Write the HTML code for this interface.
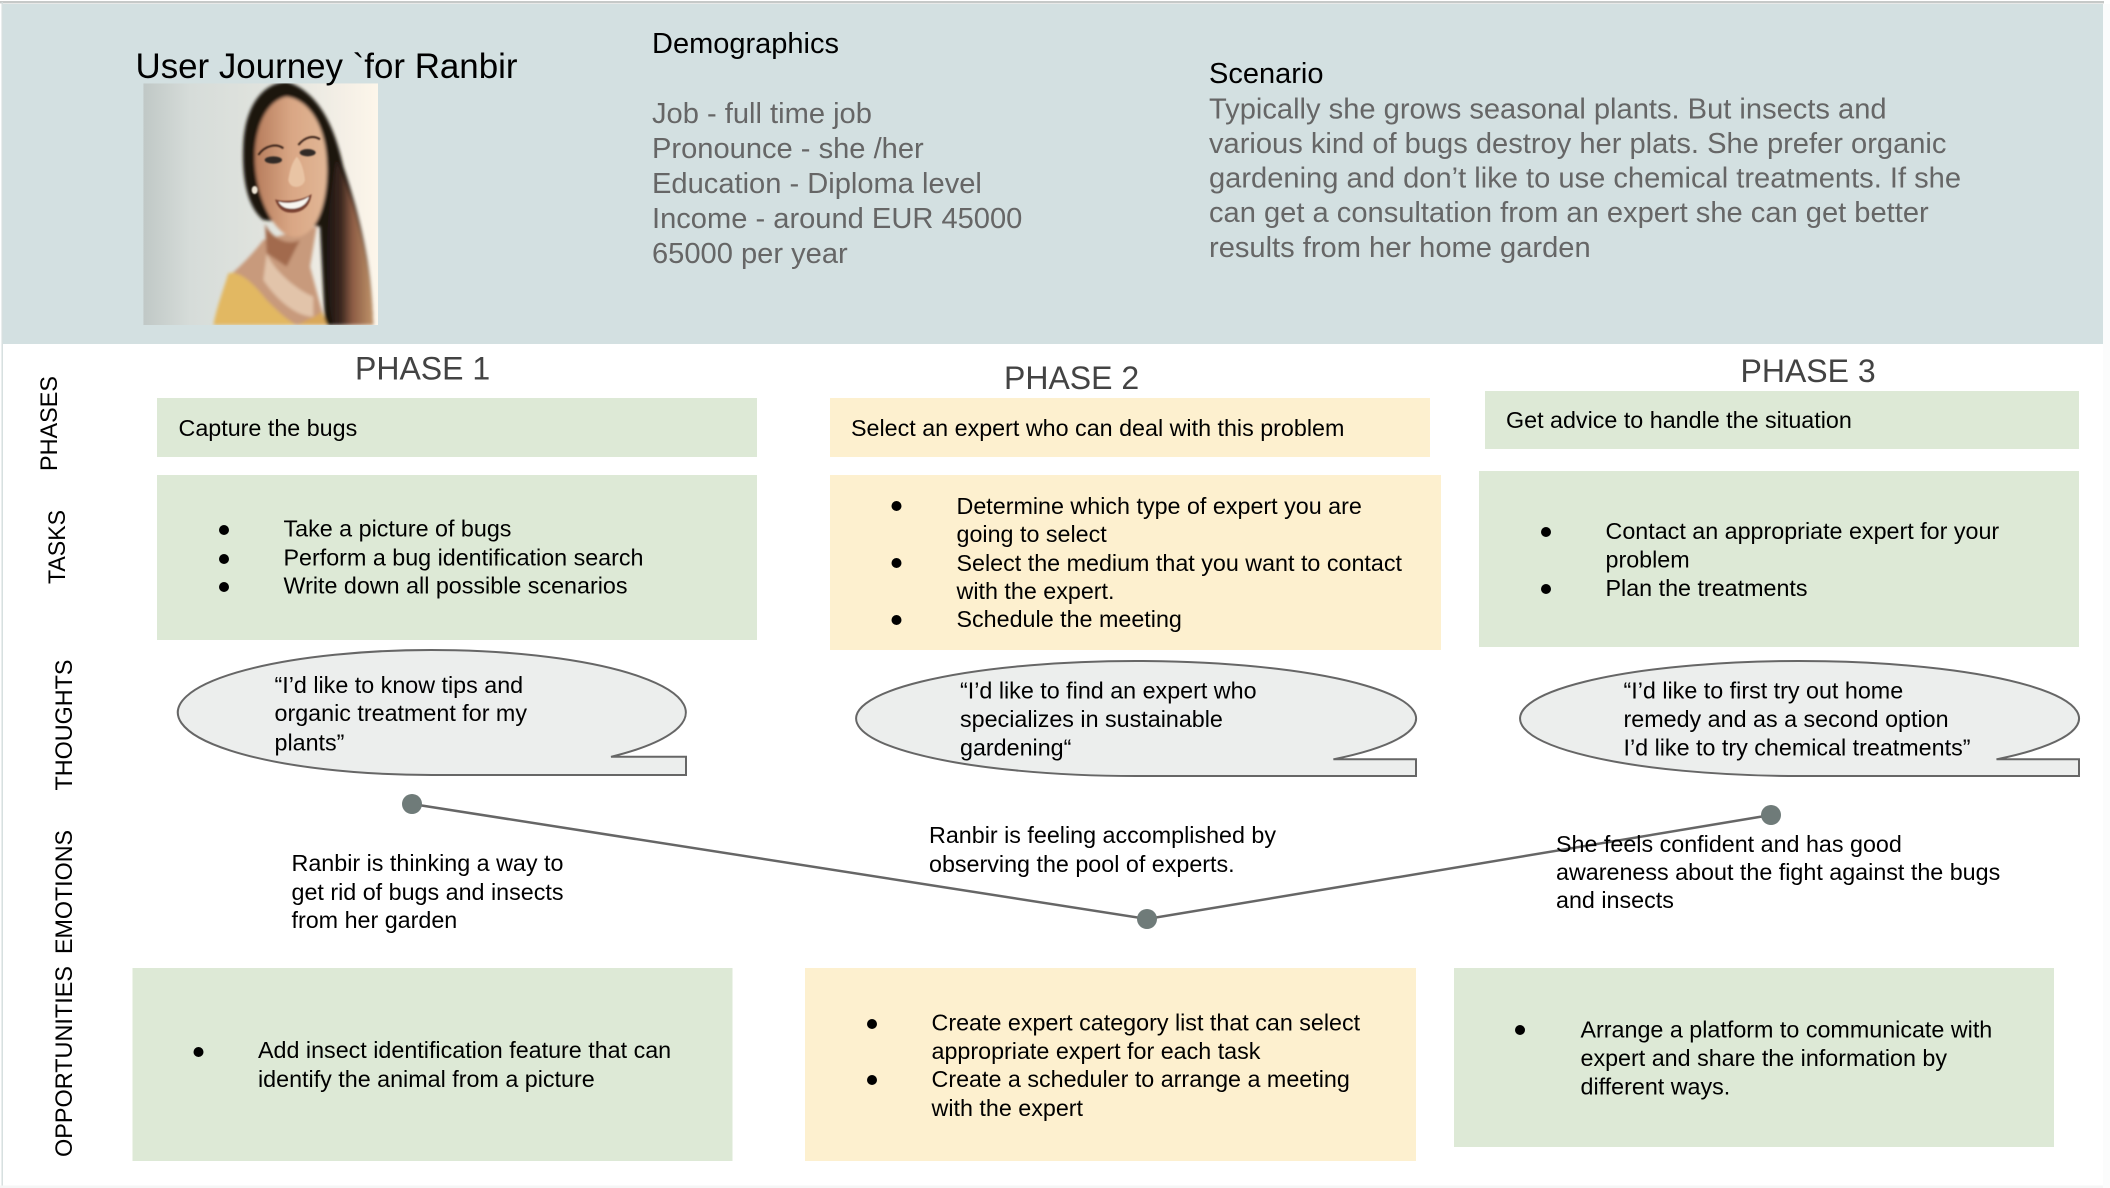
<!DOCTYPE html>
<html lang="en">
<head>
<meta charset="utf-8">
<title>User Journey for Ranbir</title>
<style>
html,body{margin:0;padding:0;background:#fff;width:2110px;height:1188px;overflow:hidden}
svg{display:block}
text{font-family:"Liberation Sans",Arial,sans-serif;fill:#000}
.b{font-size:23.3px}
.h{font-size:29px}
.g{font-size:29.1px;fill:#666}
.p{font-size:32px;fill:#434343}
.s{font-size:24.5px}
</style>
</head>
<body>
<svg xmlns="http://www.w3.org/2000/svg" width="2110" height="1188" viewBox="0 0 2110 1188">
<defs>
<linearGradient id="bg" x1="0" x2="1" y1="0" y2="0">
<stop offset="0" stop-color="#c0c8c6"/><stop offset=".2" stop-color="#d6dcd9"/><stop offset=".6" stop-color="#e3e5df"/><stop offset=".85" stop-color="#f4efe6"/><stop offset="1" stop-color="#fdf6ea"/>
</linearGradient>
<linearGradient id="hairR" x1="0" x2="1" y1="0" y2="0">
<stop offset="0" stop-color="#1e1612"/><stop offset=".3" stop-color="#3a261e"/><stop offset=".55" stop-color="#8c5c44"/><stop offset="1" stop-color="#c0946a"/>
</linearGradient>
<linearGradient id="skin" x1="0" x2="1" y1="0" y2="0">
<stop offset="0" stop-color="#b67c5c"/><stop offset=".5" stop-color="#d9a684"/><stop offset="1" stop-color="#e2b796"/>
</linearGradient>
<filter id="bl" x="-10%" y="-10%" width="120%" height="120%"><feGaussianBlur stdDeviation="5"/></filter>
<filter id="bl2" x="-20%" y="-20%" width="140%" height="140%"><feGaussianBlur stdDeviation="2.5"/></filter>
<clipPath id="pc"><rect x="10" y="10" width="704" height="725"/></clipPath>
</defs>

<!-- page frame -->
<rect x="0" y="1" width="2104" height="2.4" fill="#c6c9c8"/>
<rect x="1.5" y="2" width="1.4" height="1186" fill="#d3dcdc"/>
<rect x="0" y="1185.5" width="2110" height="2.5" fill="#f5f6f6"/>
<rect x="2103" y="4" width="7" height="1184" fill="#fbfcfc"/>

<!-- header -->
<rect x="3" y="4" width="2100" height="340" fill="#d3e0e1"/>

<!-- portrait -->
<svg x="140" y="80" width="250" height="250" viewBox="0 0 750 750">
<g clip-path="url(#pc)">
<rect x="10" y="10" width="704" height="725" fill="url(#bg)"/>
<g filter="url(#bl)">
<path d="M440 5C360 10 315 90 310 190C305 290 320 380 370 420L540 440L555 735L700 735C695 600 680 470 610 260C590 170 550 40 440 5Z" fill="#1c1511"/>
<path d="M590 240C650 380 695 560 700 735L580 735C550 600 555 420 590 240Z" fill="url(#hairR)"/>
<path d="M370 480C340 520 300 560 265 590L240 735L560 735L545 690L510 560L530 440Z" fill="#c89a7c"/>
<path d="M380 520C400 570 470 630 520 650L520 710C470 710 410 660 370 600Z" fill="#e2c4aa"/>
<path d="M440 50C385 60 350 130 345 210C340 300 370 400 420 450C450 480 490 480 520 440C550 400 565 320 560 240C555 140 510 60 440 50Z" fill="url(#skin)"/>
<path d="M375 430C390 470 440 500 480 480L440 560L380 520Z" fill="#a26b4e"/>
<path d="M265 580C300 570 340 610 380 660C410 690 440 720 470 735L220 735C230 680 250 630 265 580Z" fill="#e2b862"/>
<path d="M470 735C500 720 530 710 545 695L562 735Z" fill="#d9a85a"/>
</g>
<g filter="url(#bl2)">
<path d="M355 225C375 195 410 190 430 205" stroke="#3a2418" stroke-width="6" fill="none"/>
<path d="M475 195C495 170 520 165 540 178" stroke="#3a2418" stroke-width="6" fill="none"/>
<ellipse cx="400" cy="240" rx="26" ry="11" fill="#332a26"/>
<ellipse cx="503" cy="218" rx="24" ry="11" fill="#332a26"/>
<path d="M445 300C450 330 490 325 495 300C490 260 480 240 470 230C455 250 450 270 445 300Z" fill="#e9c4a4"/>
<path d="M405 358C440 368 490 360 515 342C510 385 480 400 450 398C425 396 412 380 405 358Z" fill="#7a4230"/>
<path d="M415 365C445 374 485 366 507 350C500 375 478 387 452 386C433 385 422 377 415 365Z" fill="#f8f6f0"/>
<ellipse cx="344" cy="330" rx="9" ry="12" fill="#efe6d6"/>
</g>
</g>
</svg>

<text x="135.500" y="78" style="font-size:34.9px">User Journey `for Ranbir</text>

<text x="652" y="53" class="h">Demographics</text>
<text x="652" y="123" class="g">Job - full time job</text>
<text x="652" y="158" class="g">Pronounce - she /her</text>
<text x="652" y="193" class="g">Education - Diploma level</text>
<text x="652" y="228" class="g">Income - around EUR 45000</text>
<text x="652" y="263" class="g">65000 per year</text>

<text x="1209" y="83" class="h">Scenario</text>
<text x="1209" y="118.500" class="g">Typically she grows seasonal plants. But insects and</text>
<text x="1209" y="153" class="g">various kind of bugs destroy her plats. She prefer organic</text>
<text x="1209" y="187.500" class="g">gardening and don’t like to use chemical treatments. If she</text>
<text x="1209" y="222" class="g">can get a consultation from an expert she can get better</text>
<text x="1209" y="257" class="g">results from her home garden</text>

<!-- phase titles -->
<text x="355" y="379.500" class="p">PHASE 1</text>
<text x="1004" y="389" class="p">PHASE 2</text>
<text x="1740.500" y="382" class="p">PHASE 3</text>

<!-- side labels -->
<text transform="translate(57 471) rotate(-90)" class="s" textLength="95" lengthAdjust="spacingAndGlyphs">PHASES</text>
<text transform="translate(65 584) rotate(-90)" class="s" textLength="74" lengthAdjust="spacingAndGlyphs">TASKS</text>
<text transform="translate(72 790.500) rotate(-90)" class="s" textLength="131" lengthAdjust="spacingAndGlyphs">THOUGHTS</text>
<text transform="translate(72 954) rotate(-90)" class="s" textLength="124" lengthAdjust="spacingAndGlyphs">EMOTIONS</text>
<text transform="translate(72 1157) rotate(-90)" class="s" textLength="191" lengthAdjust="spacingAndGlyphs">OPPORTUNITIES</text>

<!-- phases row -->
<rect x="157" y="398" width="600" height="59" fill="#dde9d6"/>
<text x="178.500" y="436" class="b">Capture the bugs</text>
<rect x="830" y="398" width="600" height="59" fill="#fdf0cf"/>
<text x="851" y="436" class="b">Select an expert who can deal with this problem</text>
<rect x="1485" y="391" width="594" height="58" fill="#dde9d6"/>
<text x="1506" y="428" class="b">Get advice to handle the situation</text>

<!-- tasks row -->
<rect x="157" y="475" width="600" height="165" fill="#dde9d6"/>
<circle cx="224" cy="530" r="5"/><circle cx="224" cy="559" r="5"/><circle cx="224" cy="587" r="5"/>
<text x="283.500" y="536.500" class="b">Take a picture of bugs</text>
<text x="283.500" y="565.500" class="b">Perform a bug identification search</text>
<text x="283.500" y="593.500" class="b">Write down all possible scenarios</text>

<rect x="830" y="475" width="611" height="175" fill="#fdf0cf"/>
<circle cx="896.500" cy="506" r="5"/><circle cx="896.500" cy="563" r="5"/><circle cx="896.500" cy="620" r="5"/>
<text x="956.500" y="514" class="b">Determine which type of expert you are</text>
<text x="956.500" y="542" class="b">going to select</text>
<text x="956.500" y="571" class="b">Select the medium that you want to contact</text>
<text x="956.500" y="599" class="b">with the expert.</text>
<text x="956.500" y="627" class="b">Schedule the meeting</text>

<rect x="1479" y="471" width="600" height="176" fill="#dde9d6"/>
<circle cx="1546" cy="532" r="5"/><circle cx="1546" cy="589" r="5"/>
<text x="1605.500" y="539" class="b">Contact an appropriate expert for your</text>
<text x="1605.500" y="567.500" class="b">problem</text>
<text x="1605.500" y="596" class="b">Plan the treatments</text>

<!-- thought bubbles -->
<path d="M432 775A254 62.500 0 1 1 611 756.800L686 756.800L686 775Z" fill="#eceeed" stroke="#666" stroke-width="2"/>
<text x="274.500" y="693" class="b">“I’d like to know tips and</text>
<text x="274.500" y="721" class="b">organic treatment for my</text>
<text x="274.500" y="750.500" class="b">plants”</text>

<path d="M1136 776A280 57.500 0 1 1 1333.400 759.300L1416 759.300L1416 776Z" fill="#eceeed" stroke="#666" stroke-width="2"/>
<text x="960" y="698.500" class="b">“I’d like to find an expert who</text>
<text x="960" y="727" class="b">specializes in sustainable</text>
<text x="960" y="755.500" class="b">gardening“</text>

<path d="M1799.500 776A279.500 57.500 0 1 1 1996.500 759.300L2079 759.300L2079 776Z" fill="#eceeed" stroke="#666" stroke-width="2"/>
<text x="1623.500" y="698.500" class="b">“I’d like to first try out home</text>
<text x="1623.500" y="727" class="b">remedy and as a second option</text>
<text x="1623.500" y="755.500" class="b">I’d like to try chemical treatments”</text>

<!-- emotion curve -->
<polyline points="412,804 1147,919 1771,815" fill="none" stroke="#666" stroke-width="2.500"/>
<circle cx="412" cy="804" r="10" fill="#6f7b79"/>
<circle cx="1147" cy="919" r="10" fill="#6f7b79"/>
<circle cx="1771" cy="815" r="10" fill="#6f7b79"/>

<text x="291.500" y="871" class="b">Ranbir is thinking a way to</text>
<text x="291.500" y="900" class="b">get rid of bugs and insects</text>
<text x="291.500" y="928" class="b">from her garden</text>

<text x="929" y="843" class="b">Ranbir is feeling accomplished by</text>
<text x="929" y="872" class="b">observing the pool of experts.</text>

<text x="1556" y="852" class="b">She feels confident and has good</text>
<text x="1556" y="880" class="b">awareness about the fight against the bugs</text>
<text x="1556" y="908" class="b">and insects</text>

<!-- opportunities row -->
<rect x="132.500" y="968" width="600" height="193" fill="#dde9d6"/>
<circle cx="198.500" cy="1052" r="5"/>
<text x="258" y="1058" class="b">Add insect identification feature that can</text>
<text x="258" y="1087" class="b">identify the animal from a picture</text>

<rect x="805" y="968" width="611" height="193" fill="#fdf0cf"/>
<circle cx="872" cy="1024" r="5"/><circle cx="872" cy="1080" r="5"/>
<text x="931.500" y="1030.500" class="b">Create expert category list that can select</text>
<text x="931.500" y="1059" class="b">appropriate expert for each task</text>
<text x="931.500" y="1087" class="b">Create a scheduler to arrange a meeting</text>
<text x="931.500" y="1116" class="b">with the expert</text>

<rect x="1454" y="968" width="600" height="179" fill="#dde9d6"/>
<circle cx="1520" cy="1030" r="5"/>
<text x="1580.500" y="1037.500" class="b">Arrange a platform to communicate with</text>
<text x="1580.500" y="1066" class="b">expert and share the information by</text>
<text x="1580.500" y="1094.500" class="b">different ways.</text>
</svg>
</body>
</html>
